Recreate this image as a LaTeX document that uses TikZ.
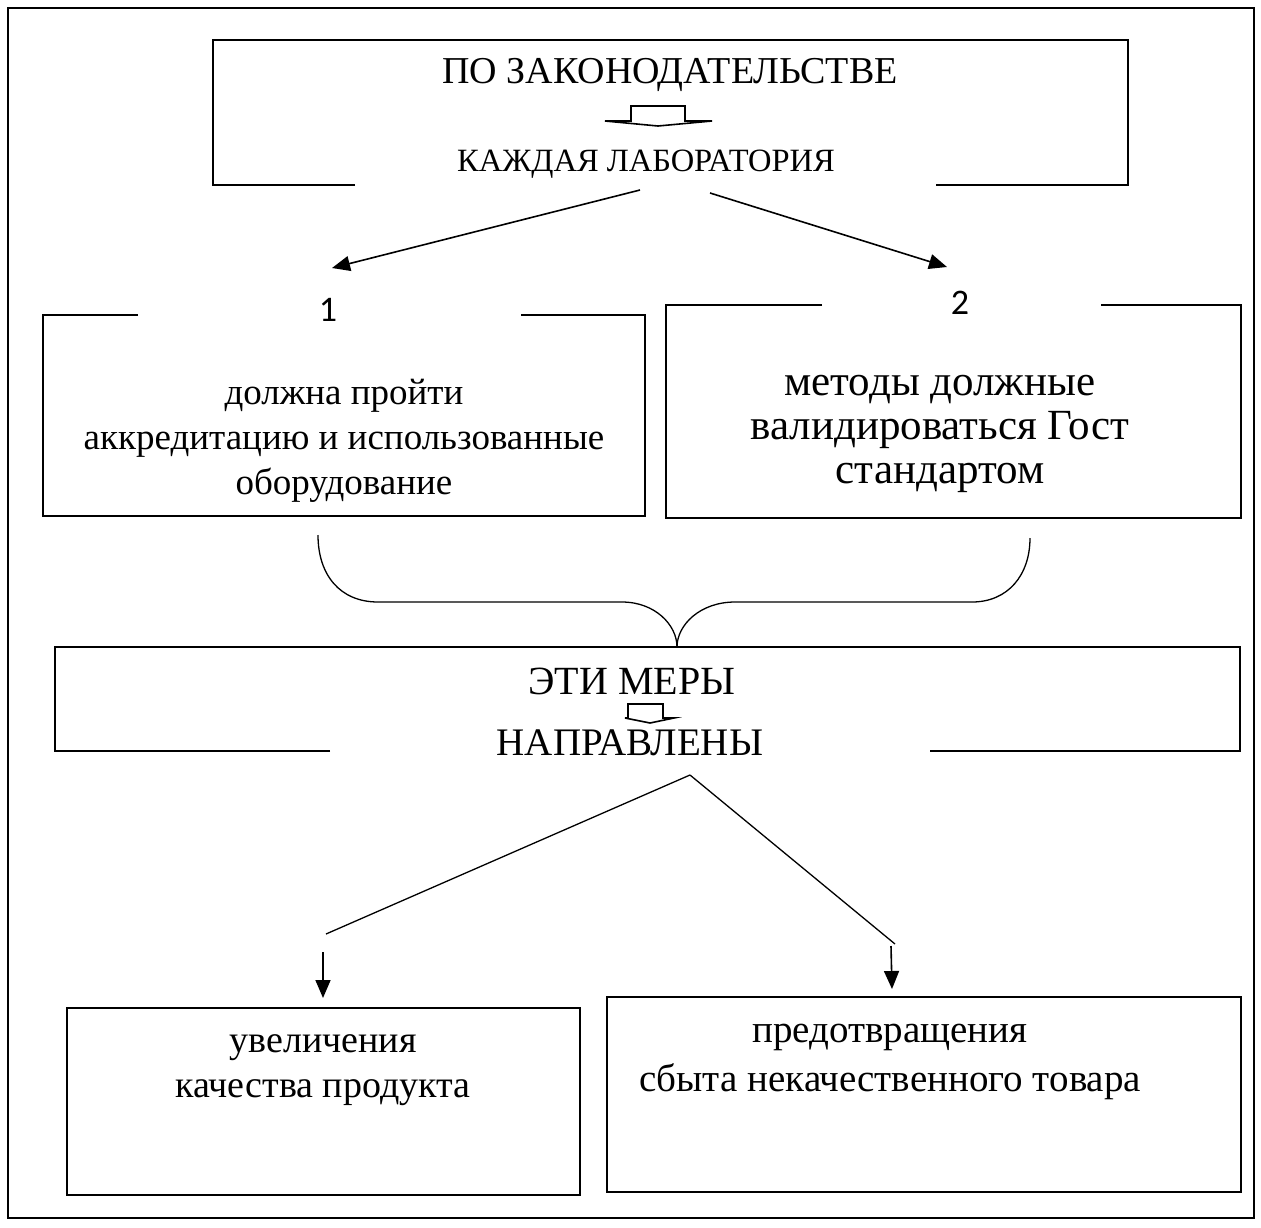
\documentclass[tikz,border=0pt]{standalone}
\usepackage{fontspec}
\setmainfont{Liberation Serif}
\newfontfamily\numfont{Carlito}
\usetikzlibrary{arrows.meta}
\begin{document}
\begin{tikzpicture}[x=1pt,y=-1pt,
  edge/.style={line width=1.6pt},
  txt/.style={inner sep=0pt, align=center, font=\fontsize{37}{45}\selectfont},
  big/.style={inner sep=0pt, align=center, font=\fontsize{38}{44}\selectfont},
  num/.style={inner sep=0pt, font=\numfont\fontsize{36}{40}\selectfont},
  arr/.style={line width=1.6pt,-{Triangle[length=18pt,width=15pt]}},
  hollow/.style={line width=1.6pt, fill=white, line join=miter}]
\useasboundingbox (0,0) rectangle (1261,1227);

% page frame
\draw[line width=1.3pt] (8,8) rectangle (1254,1218);

% legislation box
\draw[edge] (355,185) -- (213,185) -- (213,40) -- (1128,40) -- (1128,185) -- (936,185);
\node[big] (law) at (670,75) {ПО ЗАКОНОДАТЕЛЬСТВЕ};
\draw[hollow] (605,121) -- (631,121) -- (631,106) -- (685,106) -- (685,121) -- (712,121) -- (658,126) -- cycle;
\node[inner sep=0pt, font=\fontsize{32.5}{38}\selectfont] (lab) at (646,164) {КАЖДАЯ ЛАБОРАТОРИЯ};

% split arrows
\coordinate (labL) at (640,190);
\coordinate (labR) at (710,193);
\coordinate (tipL) at (332,268);
\coordinate (tipR) at (947,267);
\draw[arr] (labL) -- (tipL);
\draw[arr] (labR) -- (tipR);

\node[num] (n1) at (328,310) {1};
\node[num] (n2) at (960,303) {2};

% box 1
\draw[edge] (138,315) -- (43,315) -- (43,516) -- (645,516) -- (645,315) -- (521,315);
\node[txt] (b1) at (344,441) {должна пройти\\аккредитацию и использованные\\оборудование};

% box 2
\draw[edge] (822,305) -- (666,305) -- (666,518) -- (1241,518) -- (1241,305) -- (1101,305);
\node[txt, font=\fontsize{43}{44}\selectfont] (b2) at (940,434) {методы должные\\валидироваться Гост\\стандартом};

% brace joining both boxes
\coordinate (brL) at (318,535);
\coordinate (brR) at (1030,538);
\coordinate (brM) at (677,647);
\draw[line width=1.3pt] (brL) .. controls (318,575) and (340,602) .. (378,602) -- (622,602)
  .. controls (655,602) and (677,625) .. (brM);
\draw[line width=1.3pt] (brR) .. controls (1030,575) and (1008,602) .. (972,602) -- (735,602)
  .. controls (700,602) and (677,625) .. (brM);

% measures box
\draw[edge] (330,751) -- (55,751) -- (55,647) -- (1240,647) -- (1240,751) -- (930,751);
\node[big, font=\fontsize{40}{44}\selectfont] (mer) at (632,681) {ЭТИ МЕРЫ};
\draw[hollow] (625,718) -- (628,718) -- (628,704) -- (663,704) -- (663,718) -- (674,718) -- (650,723) -- cycle;
\node[big, font=\fontsize{39}{44}\selectfont] (nap) at (630,743) {НАПРАВЛЕНЫ};

% branches
\coordinate (fork) at (690,775);
\coordinate (endL) at (326,934);
\coordinate (endR) at (895,944);
\draw[line width=1.3pt] (fork) -- (endL);
\draw[line width=1.3pt] (fork) -- (endR);
\coordinate (dL0) at (323,952);
\coordinate (dL1) at (323,998);
\coordinate (dR0) at (891,946);
\coordinate (dR1) at (892,989);
\draw[arr] (dL0) -- (dL1);
\draw[arr] (dR0) -- (dR1);

% result boxes
\draw[edge] (67,1008) rectangle (580,1195);
\node[txt, font=\fontsize{38}{45}\selectfont] (r1) at (323,1070) {увеличения\\качества продукта};
\draw[edge] (607,997) rectangle (1241,1192);
\node[txt, font=\fontsize{39}{49}\selectfont] (r2) at (890,1062) {предотвращения\\сбыта некачественного товара};
\end{tikzpicture}
\end{document}
